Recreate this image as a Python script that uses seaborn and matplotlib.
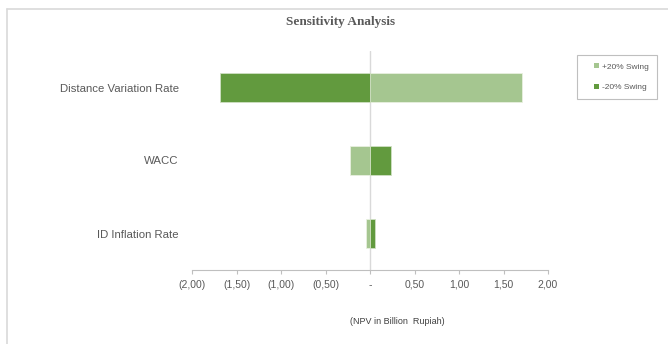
import matplotlib
matplotlib.use("Agg")
import matplotlib.pyplot as plt
import seaborn as sns
import pandas as pd
from matplotlib.patches import Patch, Rectangle
from matplotlib.lines import Line2D

categories = ["Distance Variation Rate", "WACC", "ID Inflation Rate"]
plus20 = [1.71, -0.22, -0.05]
minus20 = [-1.69, 0.24, 0.055]
series_names = ["+20% Swing", "-20% Swing"]
tick_values = [-2.0, -1.5, -1.0, -0.5, 0.0, 0.5, 1.0, 1.5, 2.0]
tick_labels = ["(2,00)", "(1,50)", "(1,00)", "(0,50)", "-", "0,50", "1,00", "1,50", "2,00"]

sns.set_theme(style="white")
plt.rcParams["font.family"] = ["Liberation Sans", "DejaVu Sans"]

light = "#a5c690"
dark = "#629a3e"
grey_txt = "#595959"

df_plus = pd.DataFrame({"cat": categories, "val": plus20})
df_minus = pd.DataFrame({"cat": categories, "val": minus20})

fig = plt.figure(figsize=(6.68, 3.44), dpi=100)
ax = fig.add_axes([192/668, 1-270/344, 356/668, 219/344])

ax.axvline(0, color="#d9d9d9", lw=1.0, zorder=0)
sns.barplot(data=df_plus, y="cat", x="val", orient="h", color=light, width=0.4,
            edgecolor="#e8f0e0", linewidth=0.6, saturation=1, ax=ax, zorder=2)
sns.barplot(data=df_minus, y="cat", x="val", orient="h", color=dark, width=0.4,
            edgecolor="#d0e0c4", linewidth=0.6, saturation=1, ax=ax, zorder=2)

ax.set_xlim(-2, 2)
ax.set_ylim(2.5, -0.5)
ax.set_xticks(tick_values)
ax.set_xticklabels(tick_labels)
ax.set_ylabel("")
ax.set_xlabel("(NPV in Billion  Rupiah)", fontsize=6.5, color="#404040", va="center")
ax.xaxis.set_label_coords((397-192)/356, (270-321)/219)
for s in ["top", "right", "left"]:
    ax.spines[s].set_visible(False)
ax.spines["bottom"].set_color("#bfbfbf")
ax.spines["bottom"].set_linewidth(0.8)
ax.tick_params(axis="x", bottom=True, length=3, width=0.8, color="#bfbfbf",
               labelsize=7.5, labelcolor=grey_txt, pad=4)
ax.tick_params(axis="y", left=False, labelsize=8.2, labelcolor=grey_txt, pad=3.5)

fig.text(341/668, 1-22/344, "Sensitivity Analysis", ha="center", va="center",
         fontsize=9.5, fontweight="bold", color=grey_txt, family="Liberation Serif")

# legend frame
fig.add_artist(Rectangle((577/668, 1-99/344), 80/668, 44/344, transform=fig.transFigure,
                         facecolor="white", edgecolor="#bfbfbf", lw=0.8))
handles = [Patch(facecolor=light, edgecolor="none"), Patch(facecolor=dark, edgecolor="none")]
leg = fig.legend(handles, series_names, loc="upper left",
                 bbox_to_anchor=(594/668, 1-63/344), fontsize=6, frameon=False,
                 handlelength=0.6, handleheight=0.6, handletextpad=0.4,
                 labelspacing=1.55, borderpad=0, borderaxespad=0, labelcolor=grey_txt)

fig.add_artist(Line2D([7/668, 7/668], [0, 1-9/344], transform=fig.transFigure,
                      color="#d9d9d9", lw=1.2))
fig.add_artist(Line2D([7/668, 1], [1-9/344, 1-9/344], transform=fig.transFigure,
                      color="#d9d9d9", lw=1.2))

fig.savefig("out.png", dpi=100)
